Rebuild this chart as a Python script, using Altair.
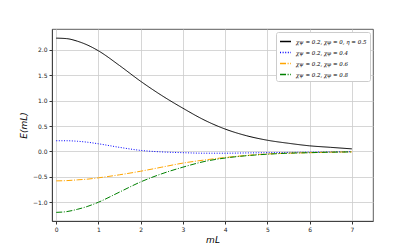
import altair as alt
import pandas as pd

x_vals = [0, 0.25, 0.5, 0.75, 1.0, 1.5, 2.0, 2.5, 3.0, 3.5, 4.0, 4.5, 5.0, 5.5, 6.0, 6.5, 7.0]
black = [2.23, 2.22, 2.17, 2.09, 1.98, 1.69, 1.38, 1.10, 0.85, 0.62, 0.44, 0.31, 0.22, 0.16, 0.11, 0.08, 0.05]
blue = [0.21, 0.21, 0.20, 0.18, 0.15, 0.08, 0.02, -0.01, -0.025, -0.035, -0.035, -0.03, -0.025, -0.02, -0.015, -0.01, -0.005]
orange = [-0.58, -0.575, -0.56, -0.545, -0.52, -0.46, -0.39, -0.31, -0.23, -0.17, -0.12, -0.08, -0.05, -0.035, -0.025, -0.015, -0.01]
green = [-1.20, -1.185, -1.14, -1.08, -1.00, -0.80, -0.60, -0.44, -0.31, -0.20, -0.13, -0.085, -0.055, -0.035, -0.025, -0.015, -0.01]

labels = [
    "χψ = 0.2, χφ = 0, η = 0.5",
    "χψ = 0.2, χφ = 0.4",
    "χψ = 0.2, χφ = 0.6",
    "χψ = 0.2, χφ = 0.8",
]
colors = ["#000000", "#0000ff", "#ffa500", "#008000"]
dashes = [[1, 0], [1, 1.6], [6, 1.6, 1, 1.6], [6, 1.6, 1, 1.6]]

rows = []
for lab, ys in zip(labels, [black, blue, orange, green]):
    for xv, yv in zip(x_vals, ys):
        rows.append({"mL": xv, "E": yv, "series": lab})
df = pd.DataFrame(rows)

chart = alt.Chart(df).mark_line(strokeWidth=1, interpolate="monotone", clip=True).encode(
    x=alt.X("mL:Q", scale=alt.Scale(domain=[-0.1, 7.5], nice=False, zero=False),
            axis=alt.Axis(title="mL", values=list(range(8)), format="d")),
    y=alt.Y("E:Q", scale=alt.Scale(domain=[-1.37, 2.41], nice=False, zero=False),
            axis=alt.Axis(title="E(mL)", values=[-1.0, -0.5, 0.0, 0.5, 1.0, 1.5, 2.0], format=".1f")),
    color=alt.Color("series:N", scale=alt.Scale(domain=labels, range=colors),
                    legend=alt.Legend(title=None, orient="top-right", offset=3,
                                      fillColor="white", strokeColor="#cccccc", padding=3,
                                      cornerRadius=2, labelFontSize=5.5, symbolType="stroke",
                                      symbolSize=120, rowPadding=1, labelFont="DejaVu Serif",
                                      labelFontStyle="italic", labelOffset=4)),
    strokeDash=alt.StrokeDash("series:N", scale=alt.Scale(domain=labels, range=dashes), legend=None),
).properties(
    width=321, height=192,
    autosize=alt.AutoSizeParams(type="none"),
    padding={"left": 44, "top": 21, "right": 34, "bottom": 27},
).configure_axis(
    grid=True, gridColor="#cccccc", gridWidth=0.8, domainColor="#333333", domainWidth=0.8,
    tickColor="#333333", tickSize=3, labelFontSize=6, labelFont="DejaVu Sans", labelColor="#222222",
    titleFont="DejaVu Sans", titleFontSize=9, titleFontWeight="normal", titleFontStyle="italic",
    titleColor="#000000", labelPadding=2,
).configure_axisX(titlePadding=3).configure_axisY(titlePadding=4).configure_view(
    stroke="#333333", strokeWidth=0.8
)

chart.save("out.html", embed_options={"renderer": "svg", "actions": False})
